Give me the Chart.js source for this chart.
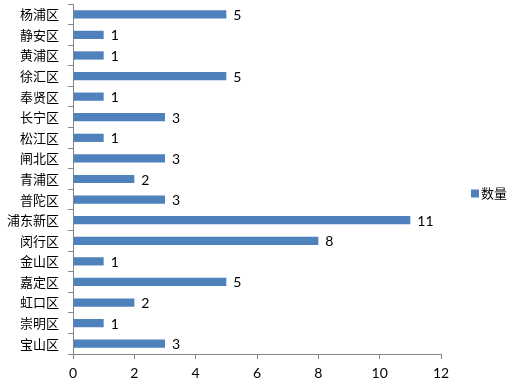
<!DOCTYPE html>
<html>
<head>
<meta charset="utf-8">
<script src="https://cdn.jsdelivr.net/npm/chart.js@4/dist/chart.umd.min.js"></script>
<style>
  html, body { margin: 0; padding: 0; background: #fff; }
  #wrap { width: 518px; height: 387px; position: relative; }
</style>
</head>
<body>
<div id="wrap"><canvas id="c"></canvas></div>
<script>
// district counts, top to bottom as in the picture
var districts = ['杨浦区', '静安区', '黄浦区', '徐汇区', '奉贤区', '长宁区', '松江区', '闸北区',
  '青浦区', '普陀区', '浦东新区', '闵行区', '金山区', '嘉定区', '虹口区', '崇明区', '宝山区'];
var counts = [5, 1, 1, 5, 1, 3, 1, 3, 2, 3, 11, 8, 1, 5, 2, 1, 3];
var seriesName = '数量';
var xMax = 12, xStep = 2;

var BAR = '#4f81bd', AXIS = '#868686';
var CJK = '"Noto Sans CJK SC", sans-serif';
var NUM = 'Lato, "Noto Sans", sans-serif';

// value labels at the end of each bar
var valueLabels = {
  id: 'valueLabels',
  afterDatasetsDraw: function (c) {
    var meta = c.getDatasetMeta(0), ctx = c.ctx;
    ctx.save();
    ctx.font = '14px ' + NUM; ctx.fillStyle = '#000';
    ctx.textAlign = 'left'; ctx.textBaseline = 'middle';
    meta.data.forEach(function (bar, i) {
      ctx.fillText(String(counts[i]), bar.x + 7, bar.y + 1);
    });
    ctx.restore();
  }
};

// small legend at the right, centred vertically on the canvas
var sideLegend = {
  id: 'sideLegend',
  afterDraw: function (c) {
    var ctx = c.ctx, x = c.width - 47, y = c.height / 2;
    ctx.save();
    ctx.fillStyle = BAR;
    ctx.fillRect(x, y - 4, 8, 8);
    ctx.fillStyle = '#000';
    ctx.font = '13px ' + CJK; ctx.textBaseline = 'middle'; ctx.textAlign = 'left';
    ctx.fillText(seriesName, x + 10, y);
    ctx.restore();
  }
};

new Chart(document.getElementById('c'), {
  type: 'bar',
  data: {
    labels: districts,
    datasets: [{ label: seriesName, data: counts, backgroundColor: BAR, barPercentage: 0.4, categoryPercentage: 1 }]
  },
  plugins: [valueLabels, sideLegend],
  options: {
    indexAxis: 'y',
    responsive: true, maintainAspectRatio: false, animation: false,
    layout: { padding: { top: 4, right: 77, left: 0, bottom: 0 } },
    plugins: { legend: { display: false }, tooltip: { enabled: false } },
    scales: {
      x: {
        min: 0, max: xMax,
        ticks: { stepSize: xStep, color: '#000', font: { family: NUM, size: 14 }, padding: 6 },
        grid: { drawOnChartArea: false, color: AXIS, tickLength: 5 },
        border: { color: AXIS },
        afterFit: function (s) { s.height = 33; s.paddingLeft = 0; s.paddingRight = 0; }
      },
      y: {
        offset: true,
        ticks: { color: '#000', font: { family: CJK, size: 13 }, padding: 9 },
        grid: { offset: true, drawOnChartArea: false, color: AXIS, tickLength: 5 },
        border: { color: AXIS },
        afterFit: function (s) { s.width = 73; s.paddingTop = 0; s.paddingBottom = 0; }
      }
    }
  }
});
</script>
</body>
</html>
